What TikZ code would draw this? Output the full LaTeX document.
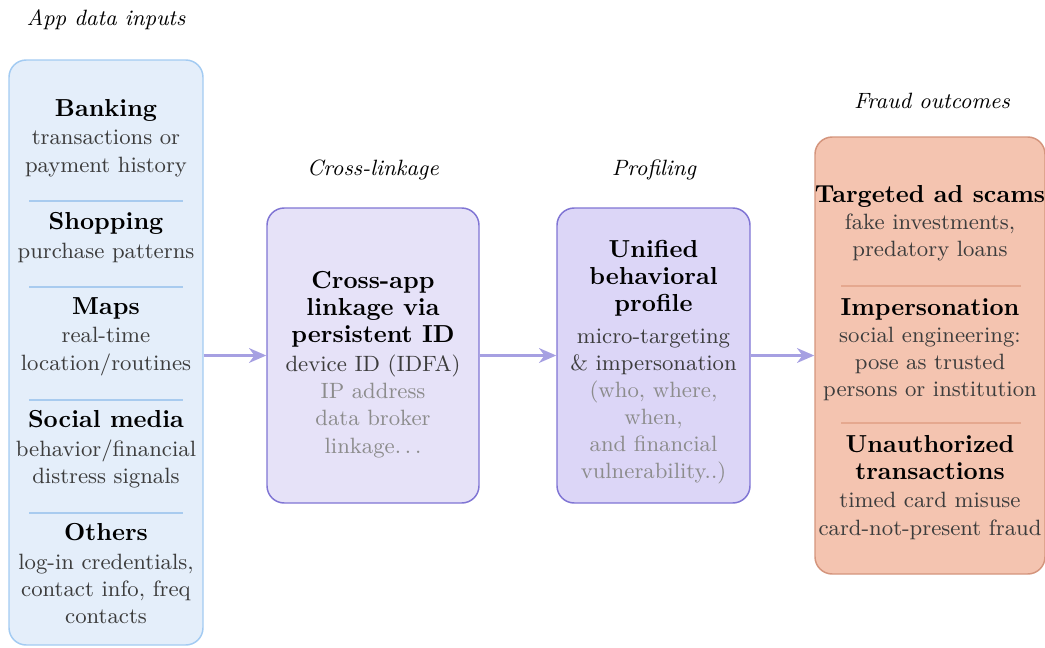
\documentclass[tikz,border=0pt]{standalone}
\usetikzlibrary{arrows.meta,fit}

\definecolor{inFill}{HTML}{E4EEFA}
\definecolor{inDraw}{HTML}{A3CBF2}
\definecolor{inRule}{HTML}{A8CBEF}
\definecolor{linkFill}{HTML}{E6E2F8}
\definecolor{profFill}{HTML}{DCD6F7}
\definecolor{violetDraw}{HTML}{8075D4}
\definecolor{fraudFill}{HTML}{F4C4B0}
\definecolor{fraudDraw}{HTML}{D4957D}
\definecolor{fraudRule}{HTML}{E5A88F}
\definecolor{flowCol}{HTML}{A6A0E2}
\definecolor{bodyCol}{HTML}{3C3C3C}
\definecolor{softCol}{HTML}{8C8C8C}

\newcommand{\boxhead}[1]{{\normalsize\bfseries\color{black}#1}}
\newcommand{\soft}[1]{{\color{softCol}#1}}

\tikzset{
  panel/.style={rounded corners=7pt, line width=0.6pt, inner sep=0pt},
  inpanel/.style={panel, fill=inFill, draw=inDraw},
  linkpanel/.style={panel, fill=linkFill, draw=violetDraw},
  profpanel/.style={panel, fill=profFill, draw=violetDraw},
  fraudpanel/.style={panel, fill=fraudFill, draw=fraudDraw},
  % multi-line blocks: the base anchor sits on the last line
  block/.style={anchor=base, align=center, inner sep=0pt, font=\small, text=bodyCol},
  stage/.style={anchor=base, inner sep=0pt, font=\small\itshape},
  flow/.style={line width=1.2pt, draw=flowCol,
    -{Stealth[length=7pt, width=6pt, inset=2.2pt]}},
  divider/.style={line width=0.5pt},
}

\begin{document}
\begin{tikzpicture}[x=0.4065pt, y=-0.4065pt]
\useasboundingbox (0,0) rectangle (1045,647);

% panels
\coordinate (in-nw) at (9,60);     \coordinate (in-se) at (203,645);
\coordinate (lk-nw) at (267,208);  \coordinate (lk-se) at (479,503);
\coordinate (pf-nw) at (557,208);  \coordinate (pf-se) at (750,503);
\coordinate (fr-nw) at (815,137);  \coordinate (fr-se) at (1045,574);
\node[inpanel, fit=(in-nw)(in-se)] (inputs) {};
\node[linkpanel, fit=(lk-nw)(lk-se)] (link) {};
\node[profpanel, fit=(pf-nw)(pf-se)] (profile) {};
\node[fraudpanel, fit=(fr-nw)(fr-se)] (fraud) {};

% stage captions
\node[stage] (cap-in)    at (106,25)   {App data inputs};
\node[stage] (cap-link)  at (373,175)  {Cross-linkage};
\node[stage] (cap-prof)  at (654,175)  {Profiling};
\node[stage] (cap-fraud) at (932,108)  {Fraud outcomes};

% dividers in the input panel
\coordinate (d1a) at (29,201); \coordinate (d1b) at (183,201);
\coordinate (d2a) at (29,287); \coordinate (d2b) at (183,287);
\coordinate (d3a) at (29,400); \coordinate (d3b) at (183,400);
\coordinate (d4a) at (29,513); \coordinate (d4b) at (183,513);
\draw[divider, draw=inRule] (d1a) -- (d1b) (d2a) -- (d2b) (d3a) -- (d3b) (d4a) -- (d4b);

% dividers in the fraud panel
\coordinate (f1a) at (841,286); \coordinate (f1b) at (1021,286);
\coordinate (f2a) at (841,423); \coordinate (f2b) at (1021,423);
\draw[divider, draw=fraudRule] (f1a) -- (f1b) (f2a) -- (f2b);

% input sources
\node[block] (banking) at (106,172)
  {\boxhead{Banking}\\[0.6pt] transactions or\\ payment history};
\node[block] (shopping) at (106,258.3)
  {\boxhead{Shopping}\\[0.6pt] purchase patterns};
\node[block] (maps) at (106,370)
  {\boxhead{Maps}\\[0.6pt] real-time\\ location/routines};
\node[block] (social) at (106,483.3)
  {\boxhead{Social media}\\[0.6pt] behavior/financial\\ distress signals};
\node[block] (others) at (106,623.3)
  {\boxhead{Others}\\[0.6pt] log-in credentials,\\ contact info, freq\\ contacts};

% linkage
\node[block] (link-txt) at (373,453)
  {\boxhead{Cross-app}\\ \boxhead{linkage via}\\ \boxhead{persistent ID}\\[1pt]
   device ID (IDFA)\\ \soft{IP address}\\ \soft{data broker}\\ \soft{linkage$\ldots$}};

% profile
\node[block] (prof-txt) at (653.5,478.5)
  {\boxhead{Unified}\\ \boxhead{behavioral}\\ \boxhead{profile}\\[2pt]
   micro-targeting\\ \& impersonation\\ \soft{(who, where,}\\ \soft{when,}\\
   \soft{and financial}\\ \soft{vulnerability..)}};

% fraud outcomes
\node[block] (scams) at (930,256.7)
  {\boxhead{Targeted ad scams}\\ fake investments,\\ predatory loans};
\node[block] (imperson) at (930,396.7)
  {\boxhead{Impersonation}\\ social engineering:\\ pose as trusted\\ persons or institution};
\node[block] (unauth) at (930,535)
  {\boxhead{Unauthorized}\\ \boxhead{transactions}\\[0.5pt] timed card misuse\\ card-not-present fraud};

% flow
\draw[flow] (inputs.east |- link.west) -- (link.west);
\draw[flow] (link.east) -- (profile.west);
\draw[flow] (profile.east) -- (fraud.west);
\end{tikzpicture}
\end{document}
